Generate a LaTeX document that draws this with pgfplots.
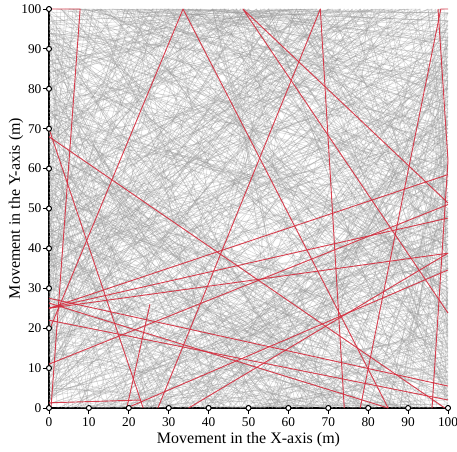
\documentclass[border=0pt]{standalone}
\usepackage{pgfplots}
\pgfplotsset{compat=1.18}
\usepackage{fontspec}
\setmainfont{Liberation Serif}
\definecolor{walk}{RGB}{150,150,150}
\definecolor{redwalk}{RGB}{212,45,62}
\begin{document}
\begin{tikzpicture}
\begin{axis}[
  set layers,
  scale only axis, width=299.25pt, height=299.25pt,
  xmin=0, xmax=100, ymin=0, ymax=100,
  axis lines=left,
  axis line style={-, line width=2pt, black},
  clip=false,
  xtick={0,10,...,100}, ytick={0,10,...,100},
  tick align=outside, major tick length=4.5pt,
  tick style={black, line width=0.75pt},
  tick label style={font=\fontsize{10}{11}\selectfont},
  /pgf/number format/assume math mode=true,
  xticklabel style={inner sep=0pt, anchor=north, yshift=-2.25pt},
  yticklabel style={inner sep=0pt, anchor=east, xshift=-1pt},
  xlabel={Movement in the X-axis (m)},
  ylabel={Movement in the Y-axis (m)},
  label style={font=\fontsize{12}{14}\selectfont},
  xlabel style={at={([yshift=-26.75pt]axis description cs:0.5,0)}, anchor=base, inner sep=0pt},
  ylabel style={at={([xshift=-24.75pt]axis description cs:0,0.5)}, anchor=center},
  every axis plot/.append style={line join=round},
  gw/.style={walk, opacity=0.38, line width=0.4pt},
  rw/.style={redwalk, opacity=0.9, line width=0.7pt},
]
\coordinate (sw) at (rel axis cs:0,0);
\coordinate (ne) at (rel axis cs:1,1);
% ---- grey walks ----
\addplot[gw] coordinates {(12,0)(35,100)(100,62)(80,0)(0,45)(22,100)(100,18)(71,100)(0,88)(40,0)(100,77)(55,100)(0,9)(100,33)(64,0)(90,100)(0,57)(27,0)(100,95)};
\addplot[gw] coordinates {(0,23)(47,100)(100,41)(68,0)(0,71)(15,0)(100,86)(29,100)(0,36)(83,0)(100,54)(6,100)(57,0)(100,12)(0,93)(39,0)(100,69)(74,100)(0,4)};
\addplot[gw] coordinates {(33,0)(0,61)(52,100)(100,27)(91,0)(0,14)(100,48)(18,100)(0,79)(62,0)(100,91)(43,100)(0,52)(25,0)(100,37)(86,100)(0,30)(76,0)(100,5)};
\addplot[gw] coordinates {(100,73)(8,0)(0,97)(66,100)(100,8)(48,0)(0,39)(95,100)(100,58)(21,0)(0,66)(37,100)(100,24)(70,0)(0,18)(58,100)(100,83)(3,0)};
\addplot[gw] coordinates {(0,50)(78,100)(100,35)(30,0)(0,84)(60,100)(100,2)(45,0)(0,28)(11,100)(100,65)(88,0)(0,75)(93,100)(100,46)(17,0)(0,11)(80,100)};
\addplot[gw] coordinates {(55,0)(100,81)(20,100)(0,42)(97,0)(100,30)(5,100)(0,68)(72,0)(100,97)(32,100)(0,2)(100,52)(42,0)(0,90)(67,100)(100,15)(14,0)};
\addplot[gw] coordinates {(0,82)(26,0)(100,44)(63,100)(0,26)(85,0)(100,75)(9,100)(0,58)(50,0)(100,10)(98,100)(0,46)(36,0)(100,88)(23,100)(0,13)(77,0)};
\addplot[gw] coordinates {(100,99)(0,20)(69,0)(100,66)(41,100)(0,72)(2,0)(100,39)(81,100)(0,55)(58,0)(100,21)(13,100)(0,96)(92,0)(100,60)(49,100)(0,7)};
\addplot[gw] coordinates {(19,100)(100,50)(74,0)(0,33)(64,100)(100,4)(10,0)(0,87)(90,100)(100,71)(31,0)(0,48)(44,100)(100,26)(54,0)(0,64)(7,100)(100,92)};
\addplot[gw] coordinates {(0,40)(100,70)(0,95)(85,100)(100,20)(24,0)(0,77)(46,100)(100,56)(66,0)(0,15)(34,100)(100,11)(86,0)(0,60)(95,100)(100,43)(40,0)};
\addplot[gw] coordinates {(47,0)(0,35)(28,100)(100,79)(96,0)(0,5)(100,64)(57,100)(0,84)(18,0)(100,32)(75,100)(0,53)(61,0)(100,96)(4,100)(0,24)(82,0)};
\addplot[gw] coordinates {(0,65)(100,14)(79,100)(0,31)(38,0)(100,93)(16,100)(0,99)(53,0)(100,47)(68,100)(0,43)(89,0)(100,74)(27,100)(0,1)(100,38)(60,100)};
\addplot[gw] coordinates {(100,55)(43,0)(0,92)(73,100)(100,19)(5,0)(0,49)(88,100)(100,85)(35,0)(0,70)(50,100)(100,3)(78,0)(0,27)(21,100)(100,67)(65,0)};
\addplot[gw] coordinates {(0,11)(61,100)(100,36)(12,0)(0,58)(99,100)(100,78)(52,0)(0,80)(36,100)(100,49)(23,0)(0,38)(84,100)(100,7)(69,0)(0,98)(45,100)};
\addplot[gw] coordinates {(29,0)(100,59)(50,100)(0,17)(100,84)(93,0)(0,44)(3,100)(100,29)(74,0)(0,91)(62,100)(100,1)(39,0)(0,67)(16,100)(100,72)(85,0)};
\addplot[gw] coordinates {(0,3)(100,43)(34,100)(0,75)(56,0)(100,90)(70,100)(0,22)(9,0)(100,16)(47,100)(0,59)(80,0)(100,63)(11,100)(0,35)(96,100)(100,34)};
\addplot[gw] coordinates {(66,100)(0,54)(42,0)(100,76)(24,100)(0,9)(100,97)(83,100)(0,86)(73,0)(100,28)(38,100)(0,47)(14,0)(100,51)(58,100)(0,19)(90,0)};
\addplot[gw] coordinates {(100,87)(59,0)(0,63)(13,100)(100,45)(30,0)(0,29)(76,100)(100,6)(95,0)(0,74)(54,100)(100,68)(6,0)(0,50)(41,100)(100,22)(48,0)};
\addplot[gw] coordinates {(0,76)(89,100)(100,58)(46,0)(0,18)(31,100)(100,12)(62,0)(0,95)(100,80)(20,0)(0,34)(70,100)(100,40)(84,0)(0,56)(26,100)(100,99)};
\addplot[gw] coordinates {(8,100)(100,35)(71,0)(0,57)(48,100)(100,91)(33,0)(0,8)(98,100)(100,17)(17,0)(0,42)(60,100)(100,61)(56,0)(0,82)(30,100)(100,4)};
\addplot[gw] coordinates {(0,90)(25,0)(100,53)(37,100)(0,39)(88,0)(100,82)(2,100)(0,14)(65,0)(100,26)(52,100)(0,69)(79,0)(100,94)(19,100)(0,32)(43,0)};
\addplot[gw] coordinates {(75,0)(0,68)(55,100)(100,13)(27,0)(0,96)(92,100)(100,42)(4,0)(0,25)(67,100)(100,70)(50,0)(0,85)(12,100)(100,57)(87,0)(0,45)};
\addplot[gw] coordinates {(0,55)(100,2)(63,100)(0,13)(58,0)(100,86)(35,100)(0,72)(94,0)(100,50)(25,100)(0,37)(79,0)(100,23)(44,100)(0,93)(70,0)(100,66)};
\addplot[gw] coordinates {(38,100)(100,92)(82,0)(0,21)(11,0)(100,46)(59,100)(0,61)(99,0)(100,31)(6,100)(0,6)(36,0)(100,75)(77,100)(0,41)(53,0)(100,9)(22,100)};
\addplot[gw] coordinates {(0,12)(100,47)(0,83)(61,100)(48,0)(100,71)(0,30)(100,8)(22,0)(38,100)(0,66)(100,90)(90,0)(15,100)(100,25)(0,52)(100,63)(33,0)(44,100)};
\addplot[gw] coordinates {(5,0)(100,38)(0,62)(100,97)(29,100)(57,0)(73,100)(0,16)(100,57)(0,87)(82,100)(38,0)(100,14)(0,41)(100,76)(12,100)(64,0)(0,28)};
\addplot[gw] coordinates {(0,97)(100,66)(0,33)(100,4)(41,100)(66,0)(86,100)(0,73)(100,44)(0,18)(19,100)(91,0)(55,100)(0,49)(100,85)(0,9)(78,100)(100,19)};
\addplot[gw] coordinates {(52,100)(39,0)(100,54)(0,81)(26,100)(9,0)(100,25)(0,47)(80,100)(71,0)(0,5)(100,94)(36,100)(18,0)(100,69)(0,38)(60,0)(47,100)};
\addplot[gw] coordinates {(100,31)(0,58)(69,0)(48,100)(0,21)(100,86)(0,67)(31,0)(14,100)(100,15)(0,92)(100,49)(76,0)(93,100)(0,44)(100,3)(3,100)(85,0)};
\addplot[gw] coordinates {(0,70)(100,41)(0,9)(45,100)(58,0)(0,96)(100,60)(24,0)(87,100)(0,35)(100,78)(64,100)(7,0)(100,9)(0,52)(100,99)(40,0)(21,100)};
\addplot[gw] coordinates {(18,0)(78,100)(100,80)(0,25)(100,5)(53,100)(30,0)(0,60)(100,33)(0,78)(96,100)(65,0)(10,100)(0,44)(100,72)(46,0)(0,89)(100,18)};
\addplot[gw] coordinates {(100,64)(22,100)(42,0)(100,96)(0,54)(100,21)(81,0)(0,39)(57,100)(0,2)(100,88)(16,0)(70,100)(0,69)(100,48)(0,13)(35,100)(89,0)};
\addplot[gw] coordinates {(0,46)(85,0)(100,53)(0,87)(42,100)(64,0)(100,30)(0,6)(100,74)(28,100)(0,64)(100,11)(52,0)(13,100)(0,27)(100,92)(79,100)(24,0)};
\addplot[gw] coordinates {(66,0)(9,100)(0,78)(100,36)(0,17)(100,58)(0,92)(47,100)(77,0)(100,84)(0,51)(29,0)(62,100)(100,6)(0,34)(100,69)(18,100)(95,0)};
\addplot[gw] coordinates {(100,12)(0,37)(100,67)(0,89)(58,100)(34,0)(100,44)(0,71)(87,0)(43,100)(0,13)(100,27)(0,56)(100,80)(8,100)(71,0)(0,99)(100,49)};
\addplot[gw] coordinates {(0,57)(100,82)(31,100)(50,0)(100,18)(0,3)(100,41)(0,74)(73,100)(21,0)(100,63)(0,40)(100,95)(0,22)(96,0)(54,100)(0,86)(100,30)};
\addplot[gw] coordinates {(37,0)(0,72)(100,93)(88,0)(0,49)(100,24)(0,15)(68,100)(11,0)(100,59)(0,84)(41,100)(62,0)(100,77)(0,31)(100,2)(26,100)(0,62)};
\addplot[gw] coordinates {(100,48)(0,19)(100,9)(0,64)(100,88)(17,100)(44,0)(0,82)(100,70)(0,44)(81,100)(57,0)(0,27)(100,35)(25,0)(0,100)(100,16)(0,53)};
\addplot[gw] coordinates {(0,31)(100,61)(0,80)(34,100)(81,0)(100,40)(0,59)(20,0)(91,100)(0,4)(100,26)(0,46)(100,87)(0,69)(49,100)(69,0)(100,99)(5,100)};
\addplot[gw] coordinates {(88,100)(13,0)(100,32)(0,92)(100,57)(0,37)(100,78)(44,100)(26,0)(0,54)(100,3)(65,100)(0,11)(100,47)(0,75)(54,0)(100,85)(32,100)};
\addplot[gw] coordinates {(0,86)(100,24)(0,48)(100,73)(59,100)(7,0)(100,52)(0,65)(93,0)(30,100)(0,20)(100,43)(0,6)(76,100)(45,0)(100,91)(0,40)(10,0)};
\addplot[gw] coordinates {(100,3)(0,29)(100,60)(0,94)(100,82)(72,0)(20,100)(0,51)(100,37)(0,10)(49,100)(100,66)(0,76)(100,13)(34,0)(92,100)(0,41)(100,79)};
\addplot[gw] coordinates {(24,100)(100,7)(0,36)(100,80)(0,58)(100,95)(62,100)(4,0)(100,45)(0,24)(100,64)(0,3)(83,100)(55,0)(0,91)(100,30)(0,69)(100,52)};
\addplot[gw] coordinates {(0,64)(100,10)(0,43)(100,68)(9,100)(75,0)(100,93)(0,77)(100,29)(0,5)(37,100)(86,0)(100,57)(0,32)(100,84)(0,97)(67,100)(15,0)};
\addplot[gw] coordinates {(73,100)(0,43)(100,22)(0,1)(100,35)(0,85)(100,55)(0,67)(56,100)(39,0)(100,65)(0,16)(100,97)(22,100)(78,0)(0,58)(100,6)(3,100)};
\addplot[gw] coordinates {(100,76)(0,50)(100,15)(0,36)(65,0)(41,100)(100,90)(0,73)(100,41)(0,8)(100,61)(0,26)(27,100)(48,0)(100,83)(0,94)(100,34)(0,48)};
\addplot[gw] coordinates {(0,18)(100,42)(0,74)(100,99)(55,100)(91,0)(0,61)(100,7)(0,38)(100,71)(0,90)(30,100)(8,0)(100,19)(0,47)(100,89)(0,2)(84,100)};
\addplot[gw] coordinates {(46,100)(100,27)(0,4)(100,54)(0,94)(100,73)(0,16)(26,0)(62,100)(100,38)(0,59)(100,86)(0,29)(97,100)(59,0)(0,81)(100,1)(12,0)};
% ---- red walk ----
\addplot[rw] coordinates {(0,100)(7.8,100)(0.5,0)};
\addplot[rw] coordinates {(0,19.3)(33.6,100)(85,0)};
\addplot[rw] coordinates {(0,68)(99.2,0)};
\addplot[rw] coordinates {(0,70)(23.6,0)};
\addplot[rw] coordinates {(100,51.4)(48.6,100)(100,23.8)};
\addplot[rw] coordinates {(27.3,0)(68,100)(74,0)};
\addplot[rw] coordinates {(78,0)(98.2,100)(100,100)};
\addplot[rw] coordinates {(97.5,100)(100,62)(96,0)};
\addplot[rw] coordinates {(0,25)(100,58.5)};
\addplot[rw] coordinates {(0,25)(100,38.8)(35,0)};
\addplot[rw] coordinates {(0,25)(100,47.6)};
\addplot[rw] coordinates {(0,11)(100,51)};
\addplot[rw] coordinates {(0,26.3)(85,0)};
\addplot[rw] coordinates {(0,27.5)(100,5.5)};
\addplot[rw] coordinates {(0,22)(100,2)};
\addplot[rw] coordinates {(19.5,0)(100,34.6)};
\addplot[rw] coordinates {(0,1.3)(23,2)};
\addplot[rw] coordinates {(25.3,26)(19.5,0)};
% ---- tick circles ----
\addplot[only marks, mark=*, mark size=1.9pt, mark options={fill=white, draw=black, line width=0.75pt}]
  coordinates {(0,0)(10,0)(20,0)(30,0)(40,0)(50,0)(60,0)(70,0)(80,0)(90,0)(100,0)};
\addplot[only marks, mark=*, mark size=1.9pt, mark options={fill=white, draw=black, line width=0.75pt}]
  coordinates {(0,10)(0,20)(0,30)(0,40)(0,50)(0,60)(0,70)(0,80)(0,90)(0,100)};
\end{axis}
\pgfresetboundingbox
\path ([shift={(-36.75pt,-32.25pt)}]sw) rectangle ([shift={(6.75pt,6.75pt)}]ne);
\end{tikzpicture}
\end{document}
